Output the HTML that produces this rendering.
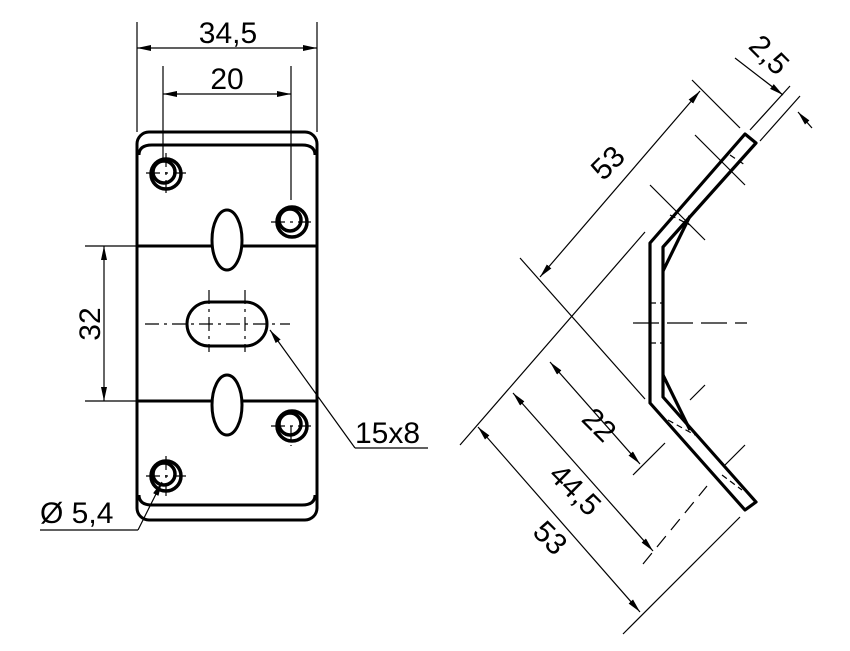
<!DOCTYPE html>
<html><head><style>body{margin:0;background:#fff}svg{display:block}text{font-family:"Liberation Sans",sans-serif;font-size:30px;fill:#000}</style></head>
<body>
<svg width="850" height="651" viewBox="0 0 850 651" xmlns="http://www.w3.org/2000/svg">
<defs>
<marker id="a" viewBox="0 0 14 6" refX="14" refY="3" markerWidth="14" markerHeight="6" markerUnits="userSpaceOnUse" orient="auto-start-reverse"><path d="M0,0 L14,3 L0,6 Z" fill="#000"/></marker>
</defs>
<g stroke="#000" fill="none">
<!-- left plate -->
<g stroke-width="3">
<rect x="137" y="132" width="180" height="388" rx="12"/>
<path d="M139,155 Q139,145 152,145 L302,145 Q315,145 315,155"/>
<path d="M139,495 Q139,505 152,505 L302,505 Q315,505 315,495"/>
<line x1="137" y1="246" x2="212" y2="246"/><line x1="242" y1="246" x2="317" y2="246"/>
<line x1="137" y1="401" x2="212" y2="401"/><line x1="242" y1="401" x2="317" y2="401"/>
<ellipse cx="227" cy="240" rx="15" ry="30"/>
<ellipse cx="227" cy="405" rx="15" ry="30"/>
<rect x="187" y="302" width="80" height="44" rx="22"/>
</g>
<g stroke-width="3.5">
<circle cx="166" cy="174" r="15"/><circle cx="164" cy="172" r="11"/>
<circle cx="292" cy="222" r="15"/><circle cx="290" cy="220" r="11"/>
<circle cx="292" cy="426" r="15"/><circle cx="290" cy="424" r="11"/>
<circle cx="166" cy="476" r="15"/><circle cx="164" cy="474" r="11"/>
</g>
<g stroke-width="1.2">
<line x1="137" y1="22" x2="137" y2="132"/><line x1="317" y1="22" x2="317" y2="132"/>
<line x1="137" y1="48" x2="317" y2="48" marker-start="url(#a)" marker-end="url(#a)"/>
<line x1="163" y1="66" x2="163" y2="160"/><line x1="291" y1="66" x2="291" y2="200"/>
<line x1="163" y1="94" x2="291" y2="94" marker-start="url(#a)" marker-end="url(#a)"/>
<line x1="85" y1="246" x2="137" y2="246"/><line x1="85" y1="401" x2="137" y2="401"/>
<line x1="104" y1="246" x2="104" y2="401" marker-start="url(#a)" marker-end="url(#a)"/>
<line x1="355" y1="448" x2="270" y2="330" marker-end="url(#a)"/><line x1="355" y1="448" x2="428" y2="448"/>
<line x1="40" y1="530" x2="138" y2="530"/><line x1="138" y1="530" x2="162" y2="482" marker-end="url(#a)"/>
<g stroke-dasharray="14,5,3,5">
<line x1="145" y1="324" x2="290" y2="324"/><line x1="209" y1="290" x2="209" y2="352"/><line x1="245" y1="290" x2="245" y2="352"/>
<line x1="146" y1="173" x2="186" y2="173"/><line x1="166" y1="153" x2="166" y2="193"/>
<line x1="271" y1="222" x2="311" y2="222"/><line x1="291" y1="426" x2="291" y2="446"/><line x1="271" y1="426" x2="311" y2="426"/>
<line x1="146" y1="476" x2="186" y2="476"/><line x1="166" y1="456" x2="166" y2="496"/>
</g>
</g>
<!-- right view -->
<g stroke-width="3.2" stroke-linejoin="round">
<path d="M745,134 L650,243 L650,403 L745,510 L756,502 L663,397 L663,247 L756,143 Z"/>
<line x1="663" y1="271" x2="690" y2="216"/><line x1="663" y1="375" x2="690" y2="430"/>
</g>
<g stroke-width="1.2">
<line x1="633" y1="323" x2="747" y2="323" stroke-dasharray="26,8"/>
<line x1="692" y1="80" x2="740" y2="128"/><line x1="520" y1="258" x2="645" y2="399"/>
<line x1="700" y1="91" x2="540" y2="277" marker-start="url(#a)" marker-end="url(#a)"/>
<line x1="750" y1="130" x2="790" y2="86"/><line x1="760" y1="141" x2="800" y2="96"/>
<line x1="735" y1="58" x2="783" y2="95" marker-end="url(#a)"/><line x1="812" y1="128" x2="798" y2="112" marker-end="url(#a)"/>
<line x1="460" y1="445" x2="645" y2="232"/>
<line x1="633" y1="475" x2="665" y2="443"/>
<line x1="550" y1="362" x2="640" y2="464" marker-start="url(#a)" marker-end="url(#a)"/>
<line x1="643" y1="564" x2="707" y2="486" stroke-dasharray="14,8"/>
<line x1="513" y1="393" x2="653" y2="551" marker-start="url(#a)" marker-end="url(#a)"/>
<line x1="623" y1="634" x2="740" y2="517"/>
<line x1="478" y1="427" x2="640" y2="612" marker-start="url(#a)" marker-end="url(#a)"/>
<line x1="650" y1="185" x2="705" y2="240"/><line x1="695" y1="135" x2="745" y2="185"/>
<line x1="690" y1="400" x2="705" y2="385"/><line x1="725" y1="465" x2="745" y2="445"/>
<g stroke-dasharray="6,4">
<line x1="670" y1="215" x2="690" y2="225"/><line x1="730" y1="155" x2="745" y2="165"/>
<line x1="668" y1="420" x2="695" y2="435"/><line x1="722" y1="475" x2="742" y2="490"/>
<line x1="650" y1="303" x2="663" y2="303"/><line x1="650" y1="343" x2="663" y2="343"/>
</g>
</g>
</g>
<text x="228" y="43" text-anchor="middle">34,5</text>
<text x="227" y="89" text-anchor="middle">20</text>
<text transform="translate(100,324) rotate(-90)" text-anchor="middle">32</text>
<text x="355" y="443">15x8</text>
<text x="40" y="523">Ø 5,4</text>
<text transform="translate(615,170) rotate(-45)" text-anchor="middle">53</text>
<text transform="translate(762,62) rotate(45)" text-anchor="middle">2,5</text>
<text transform="translate(592,432) rotate(45)" text-anchor="middle">22</text>
<text transform="translate(568,497) rotate(45)" text-anchor="middle">44,5</text>
<text transform="translate(543,545) rotate(45)" text-anchor="middle">53</text>
</svg>
</body></html>
